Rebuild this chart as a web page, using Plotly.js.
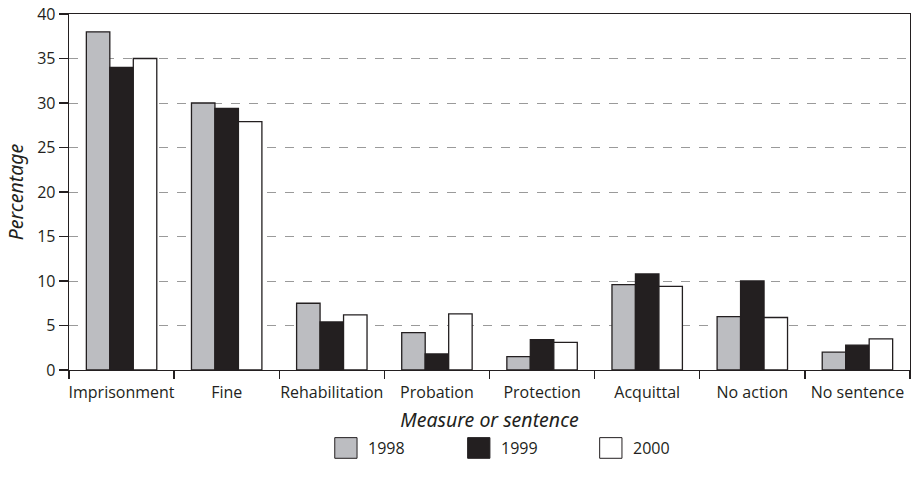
<!DOCTYPE html>
<html><head><meta charset="utf-8">
<script src="https://cdn.plot.ly/plotly-3.0.1.min.js"></script>
<style>html,body{margin:0;padding:0;background:#fff}#chart{width:914px;height:487px}</style>
</head><body><div id="chart"></div>
<script>
const categories = ["Imprisonment","Fine","Rehabilitation","Probation","Protection","Acquittal","No action","No sentence"];
const seriesNames = ["1998","1999","2000"];
const values1998 = [38.0, 30.0, 7.5, 4.2, 1.5, 9.6, 6.0, 2.0];
const values1999 = [34.0, 29.4, 5.4, 1.8, 3.4, 10.8, 10.0, 2.8];
const values2000 = [35.0, 27.9, 6.2, 6.3, 3.1, 9.4, 5.9, 3.5];
const yTicks = [0,5,10,15,20,25,30,35,40];

const colors = ["#bcbdc1", "#231f20", "#ffffff"];
const allValues = [values1998, values1999, values2000];
const font = "'Open Sans', 'DejaVu Sans', sans-serif";
const italicFont = "'Noto Sans', 'Open Sans', sans-serif";

const traces = allValues.map((v, i) => ({
  type: "bar", name: seriesNames[i], x: categories, y: v,
  marker: {color: colors[i], line: {color: "#231f20", width: 1.3}},
  showlegend: false, hoverinfo: "x+y"
}));

const shapes = [];
const annotations = [];
const legX = [0.316, 0.474, 0.631];
seriesNames.forEach((n, i) => {
  shapes.push({type: "rect", xref: "paper", yref: "paper",
    x0: legX[i], x1: legX[i] + 0.0265, y0: -0.248, y1: -0.19,
    fillcolor: colors[i], line: {color: "#231f20", width: 1}});
  annotations.push({xref: "paper", yref: "paper", x: legX[i] + 0.037, y: -0.219,
    xanchor: "left", yanchor: "middle", text: n, showarrow: false,
    font: {family: font, size: 16, color: "#231f20"}});
});

const layout = {
  width: 914, height: 487,
  margin: {l: 69, r: 4, t: 14, b: 117},
  paper_bgcolor: "#fff", plot_bgcolor: "#fff",
  barmode: "group", bargap: 0.33, bargroupgap: 0,
  font: {family: font, color: "#231f20"},
  xaxis: {
    type: "category", tickson: "boundaries", ticks: "outside", ticklen: 8, tickwidth: 1.3, tickangle: 0,
    ticklabelstandoff: 7,
    tickcolor: "#231f20", showline: true, linecolor: "#231f20", linewidth: 1.3, mirror: true,
    showgrid: false, tickfont: {family: font, size: 16, color: "#231f20"},
    title: {text: "<i>Measure or sentence</i>", font: {family: italicFont, size: 19.5, color: "#231f20"}, standoff: 11}
  },
  yaxis: {
    range: [0, 40], tickvals: yTicks, ticktext: yTicks.map(String), ticks: "outside", ticklen: 9,
    tickwidth: 1.3, tickcolor: "#231f20", showline: true, linecolor: "#231f20", linewidth: 1.3, mirror: true,
    showgrid: true, gridcolor: "#9a9a9a", griddash: "dash", gridwidth: 1, zeroline: false,
    tickfont: {family: font, size: 16, color: "#231f20"},
    title: {text: "<i>Percentage</i>", font: {family: italicFont, size: 19.5, color: "#231f20"}, standoff: 8}
  },
  shapes: shapes, annotations: annotations
};

Plotly.newPlot("chart", traces, layout, {displayModeBar: false, staticPlot: true});
</script></body></html>
